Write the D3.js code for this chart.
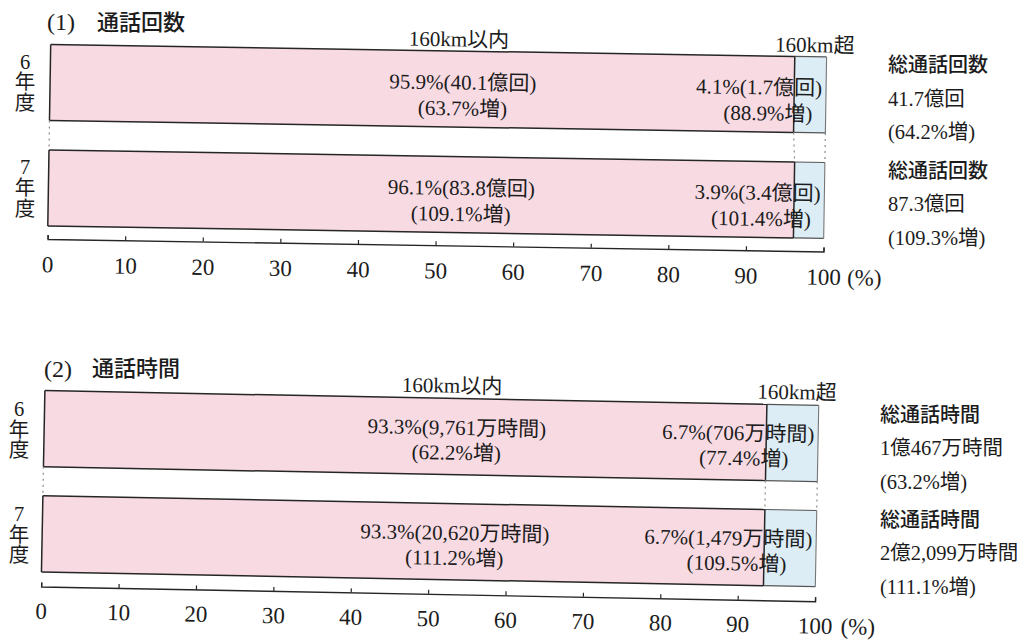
<!DOCTYPE html>
<html lang="ja">
<head>
<meta charset="utf-8">
<script src="https://cdn.jsdelivr.net/npm/d3@7"></script>
<style>
  html, body { margin: 0; padding: 0; background: #ffffff; }
  svg { display: block; }
  text { fill: #1c1c1c; font-family: "Liberation Serif", "Noto Sans CJK JP", serif; }
  .sans { font-family: "Noto Sans CJK JP", sans-serif; }
</style>
</head>
<body>
<svg id="chart" width="1027" height="643"></svg>
<script>
// 年度と目盛
const years = ["6年度", "7年度"];
const axisTicks = [0, 10, 20, 30, 40, 50, 60, 70, 80, 90, 100];
const segmentNames = ["160km以内", "160km超"];

// (1) 通話回数
const countWithinShare = [95.9, 96.1];
const countBeyondShare = [4.1, 3.9];
const countWithinAmount = ["40.1億回", "83.8億回"];
const countWithinGrowth = ["63.7%増", "109.1%増"];
const countBeyondAmount = ["1.7億回", "3.4億回"];
const countBeyondGrowth = ["88.9%増", "101.4%増"];
const countTotalName = "総通話回数";
const countTotalAmount = ["41.7億回", "87.3億回"];
const countTotalGrowth = ["64.2%増", "109.3%増"];

// (2) 通話時間
const timeWithinShare = [93.3, 93.3];
const timeBeyondShare = [6.7, 6.7];
const timeWithinAmount = ["9,761万時間", "20,620万時間"];
const timeWithinGrowth = ["62.2%増", "111.2%増"];
const timeBeyondAmount = ["706万時間", "1,479万時間"];
const timeBeyondGrowth = ["77.4%増", "109.5%増"];
const timeTotalName = "総通話時間";
const timeTotalAmount = ["1億467万時間", "2億2,099万時間"];
const timeTotalGrowth = ["63.2%増", "111.1%増"];

const PINK = "#f8dae3";
const BLUE = "#dcedf6";
const INK = "#262626";

const svg = d3.select("#chart");
svg.append("rect").attr("width", 1027).attr("height", 643).attr("fill", "#ffffff");

const fmt = d3.format(".1f");

const panels = [
  {
    number: "(1)", title: "通話回数",
    within: countWithinShare, beyond: countBeyondShare,
    withinAmount: countWithinAmount, withinGrowth: countWithinGrowth,
    beyondAmount: countBeyondAmount, beyondGrowth: countBeyondGrowth,
    totalName: countTotalName, totalAmount: countTotalAmount, totalGrowth: countTotalGrowth,
    layout: {
      titleX: 47, titleX2: 97, titleY: 22,
      x0: 49, x100: 825, barTop: 44.5, barBottom: 226, gap: 0.28,
      tilt: 0.92, pivotY: 150,
      axisY: 239, tickPad: 17, pctGap: 24,
      yearX: 25, yearDy: [17, 37.5, 58.5],
      headDy: -12,
      lineDy: [31, 57],
      leftCenter: 53.2, rightEnd1: 99.5, rightEnd2: 98.3,
      totalX: 888, totalDy: 20.5, totalStep: 33.5
    }
  },
  {
    number: "(2)", title: "通話時間",
    within: timeWithinShare, beyond: timeBeyondShare,
    withinAmount: timeWithinAmount, withinGrowth: timeWithinGrowth,
    beyondAmount: timeBeyondAmount, beyondGrowth: timeBeyondGrowth,
    totalName: timeTotalName, totalAmount: timeTotalAmount, totalGrowth: timeTotalGrowth,
    layout: {
      titleX: 44, titleX2: 92, titleY: 368.5,
      x0: 43, x100: 817, barTop: 390.6, barBottom: 572, gap: 0.275,
      tilt: 1.09, pivotY: 490,
      axisY: 586.5, tickPad: 16, pctGap: 26,
      yearX: 19, yearDy: [18, 39, 59],
      headDy: -13,
      lineDy: [29, 54],
      leftCenter: 53.3, rightEnd1: 99.5, rightEnd2: 96.2,
      totalX: 880, totalDy: 24, totalStep: 33.5
    }
  }
];

function drawPanel(p) {
  const L = p.layout;
  const x = d3.scaleLinear().domain([0, 100]).range([L.x0, L.x100]);
  const y = d3.scaleBand().domain(years).range([L.barTop, L.barBottom]).paddingInner(L.gap);
  const bw = y.bandwidth();

  const rows = years.map((yr, i) => ({
    yr, within: p.within[i], beyond: p.beyond[i],
    wAmt: p.withinAmount[i], wGr: p.withinGrowth[i],
    bAmt: p.beyondAmount[i], bGr: p.beyondGrowth[i],
    tAmt: p.totalAmount[i], tGr: p.totalGrowth[i]
  }));

  // 見出し
  svg.append("text").attr("x", L.titleX).attr("y", L.titleY).attr("dy", "0.35em")
    .attr("font-size", 24).text(p.number);
  svg.append("text").attr("class", "sans").attr("x", L.titleX2).attr("y", L.titleY).attr("dy", "0.35em")
    .attr("font-size", 22).attr("font-weight", 500).text(p.title);

  // 年度ラベル（縦書き）
  rows.forEach(r => {
    [...r.yr].forEach((ch, k) => {
      svg.append("text").attr("x", L.yearX).attr("y", y(r.yr) + L.yearDy[k]).attr("dy", "0.35em")
        .attr("text-anchor", "middle").attr("font-size", 20.5).text(ch);
    });
  });

  // 総計（右側）
  rows.forEach(r => {
    const y0 = y(r.yr) + L.totalDy;
    svg.append("text").attr("class", "sans").attr("x", L.totalX).attr("y", y0).attr("dy", "0.35em")
      .attr("font-size", 20).attr("font-weight", 500).text(p.totalName);
    svg.append("text").attr("x", L.totalX).attr("y", y0 + L.totalStep).attr("dy", "0.35em")
      .attr("font-size", 20.5).text(r.tAmt);
    svg.append("text").attr("x", L.totalX).attr("y", y0 + 2 * L.totalStep).attr("dy", "0.35em")
      .attr("font-size", 20.5).text(`(${r.tGr})`);
  });

  const g = svg.append("g").attr("transform", `rotate(${L.tilt},${L.x0},${L.pivotY})`);

  // 帯グラフ
  g.selectAll("rect.within").data(rows).join("rect").attr("class", "within")
    .attr("x", x(0)).attr("y", d => y(d.yr))
    .attr("width", d => x(d.within) - x(0)).attr("height", bw).attr("fill", PINK);
  g.selectAll("rect.beyond").data(rows).join("rect").attr("class", "beyond")
    .attr("x", d => x(d.within)).attr("y", d => y(d.yr))
    .attr("width", d => x(d.within + d.beyond) - x(d.within)).attr("height", bw).attr("fill", BLUE);

  // 枠線
  rows.forEach(d => {
    const top = y(d.yr), bot = top + bw, end = x(d.within + d.beyond);
    const seg = (x1, y1, x2, y2, c, w) => g.append("line")
      .attr("x1", x1).attr("y1", y1).attr("x2", x2).attr("y2", y2)
      .attr("stroke", c).attr("stroke-width", w);
    seg(x(0), top, x(d.within), top, INK, 1.5);
    seg(x(0), bot, x(d.within), bot, INK, 1.5);
    seg(x(d.within), top, end, top, "#555", 1.2);
    seg(x(d.within), bot, end, bot, "#555", 1.2);
    seg(x(0), top, x(0), bot, INK, 1.5);
    seg(x(d.within), top, x(d.within), bot, INK, 1.5);
    seg(end, top, end, bot, "#777", 1.1);
  });

  // 年度間の点線
  const r0 = rows[0], r1 = rows[1];
  [[0, 0], [r0.within, r1.within], [r0.within + r0.beyond, r1.within + r1.beyond]].forEach(([a, b]) => {
    g.append("line")
      .attr("x1", x(a)).attr("y1", y(r0.yr) + bw).attr("x2", x(b)).attr("y2", y(r1.yr))
      .attr("stroke", "#8a8a8a").attr("stroke-width", 1.2).attr("stroke-dasharray", "2,4");
  });

  // 区分名
  g.append("text").attr("x", x(52.6)).attr("y", y(years[0]) + L.headDy).attr("dy", "0.35em")
    .attr("text-anchor", "middle").attr("font-size", 21).text(segmentNames[0]);
  g.append("text").attr("x", x(r0.within + r0.beyond / 2) + 4).attr("y", y(years[0]) + L.headDy).attr("dy", "0.35em")
    .attr("text-anchor", "middle").attr("font-size", 21).text(segmentNames[1]);

  // 値ラベル
  rows.forEach(d => {
    const top = y(d.yr);
    g.append("text").attr("x", x(L.leftCenter)).attr("y", top + L.lineDy[0]).attr("dy", "0.35em")
      .attr("text-anchor", "middle").attr("font-size", 21).text(`${fmt(d.within)}%(${d.wAmt})`);
    g.append("text").attr("x", x(L.leftCenter)).attr("y", top + L.lineDy[1]).attr("dy", "0.35em")
      .attr("text-anchor", "middle").attr("font-size", 21).text(`(${d.wGr})`);
    g.append("text").attr("x", x(L.rightEnd1)).attr("y", top + L.lineDy[0]).attr("dy", "0.35em")
      .attr("text-anchor", "end").attr("font-size", 21).text(`${fmt(d.beyond)}%(${d.bAmt})`);
    g.append("text").attr("x", x(L.rightEnd2)).attr("y", top + L.lineDy[1]).attr("dy", "0.35em")
      .attr("text-anchor", "end").attr("font-size", 21).text(`(${d.bGr})`);
  });

  // 目盛軸
  const axis = g.append("g").attr("transform", `translate(0,${L.axisY})`)
    .call(d3.axisBottom(x).tickValues(axisTicks).tickFormat(d => d)
      .tickSizeInner(-4).tickSizeOuter(-4).tickPadding(L.tickPad));
  axis.select(".domain").attr("stroke", INK).attr("stroke-width", 1.4);
  axis.selectAll(".tick line").attr("stroke", INK).attr("stroke-width", 1.2);
  axis.selectAll(".tick text").attr("font-size", 23).attr("fill", "#1c1c1c")
    .attr("font-family", "Liberation Serif, serif");
  g.append("text").attr("x", x(100) + L.pctGap).attr("y", L.axisY + L.tickPad).attr("dy", "0.71em")
    .attr("font-size", 23).text("(%)");
}

panels.forEach(drawPanel);
</script>
</body>
</html>
